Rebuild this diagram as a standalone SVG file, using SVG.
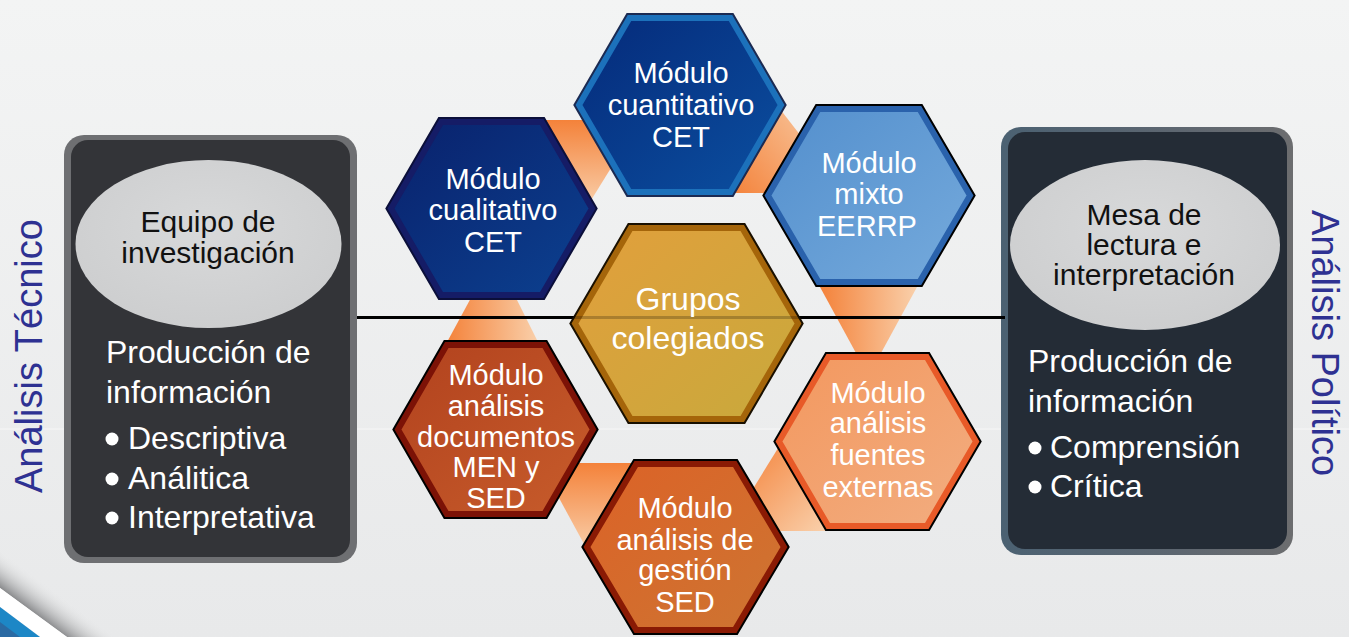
<svg xmlns="http://www.w3.org/2000/svg" width="1349" height="637" viewBox="0 0 1349 637">
<defs>
<style>
.hx-ol{stroke-width:10;stroke-linejoin:miter}
.hx-in{stroke-width:6;stroke-linejoin:miter}
.ht{font-family:"Liberation Sans",Arial,sans-serif;font-size:29px;fill:#ffffff;text-anchor:middle}
.pt{font-family:"Liberation Sans",Arial,sans-serif;font-size:32px;fill:#ffffff}
.et{font-family:"Liberation Sans",Arial,sans-serif;font-size:30px;fill:#111111;text-anchor:middle}
.vt{font-family:"Liberation Sans",Arial,sans-serif;font-size:38px;fill:#2e3192}
</style>
<linearGradient id="bg" x1="0" y1="0" x2="0" y2="1"><stop offset="0" stop-color="#f3f4f4"/><stop offset="1" stop-color="#e8e9ea"/></linearGradient>
<linearGradient id="shade" gradientUnits="userSpaceOnUse" x1="33" y1="612" x2="51" y2="588"><stop offset="0" stop-color="#8c8d8f"/><stop offset="1" stop-color="#e9eaea" stop-opacity="0"/></linearGradient>
<linearGradient id="rborder" x1="0" y1="0" x2="1" y2="0"><stop offset="0" stop-color="#4b6172"/><stop offset="0.6" stop-color="#5d6670"/><stop offset="1" stop-color="#6c6d6f"/></linearGradient>
<radialGradient id="ell" cx="0.5" cy="0.4" r="0.6"><stop offset="0" stop-color="#d8d9da"/><stop offset="1" stop-color="#cdcecf"/></radialGradient>
<linearGradient id="oV" x1="0" y1="0" x2="0" y2="1"><stop offset="0" stop-color="#f4823a"/><stop offset="1" stop-color="#f9d3b0"/></linearGradient>
<linearGradient id="oH" x1="0" y1="0" x2="1" y2="0"><stop offset="0" stop-color="#f4823a"/><stop offset="1" stop-color="#f9d0ab"/></linearGradient>
<linearGradient id="oD" x1="0" y1="0" x2="1" y2="1"><stop offset="0" stop-color="#f4823a"/><stop offset="1" stop-color="#f9d0ab"/></linearGradient>
<linearGradient id="oU" x1="0" y1="1" x2="1" y2="0"><stop offset="0" stop-color="#f4823a"/><stop offset="1" stop-color="#f8c49a"/></linearGradient>
<linearGradient id="gCuant" x1="0" y1="0" x2="1" y2="1"><stop offset="0" stop-color="#052a7a"/><stop offset="1" stop-color="#0b4fa0"/></linearGradient>
<linearGradient id="gCual" x1="0" y1="0" x2="1" y2="1"><stop offset="0" stop-color="#09216c"/><stop offset="1" stop-color="#0c4190"/></linearGradient>
<linearGradient id="gMix" x1="0" y1="0" x2="1" y2="1"><stop offset="0" stop-color="#538fcd"/><stop offset="1" stop-color="#75aadc"/></linearGradient>
<linearGradient id="gGrp" x1="0" y1="0" x2="1" y2="1"><stop offset="0" stop-color="#e29f3c"/><stop offset="1" stop-color="#c8a93c"/></linearGradient>
<linearGradient id="gDoc" x1="0" y1="0" x2="1" y2="1"><stop offset="0" stop-color="#b2421e"/><stop offset="1" stop-color="#c75c2b"/></linearGradient>
<linearGradient id="gFue" x1="0" y1="0" x2="1" y2="1"><stop offset="0" stop-color="#f3985f"/><stop offset="1" stop-color="#f2ad80"/></linearGradient>
<linearGradient id="gGes" x1="0" y1="0" x2="1" y2="1"><stop offset="0" stop-color="#dc6227"/><stop offset="1" stop-color="#cd7532"/></linearGradient>
</defs>

<g id="background">
<rect x="0" y="0" width="1349" height="637" fill="url(#bg)"/>
<line x1="0" y1="429" x2="1349" y2="429" stroke="#ffffff" stroke-opacity="0.6" stroke-width="1"/>
<polygon points="0,550 115,637 67,637 0,588" fill="url(#shade)"/>
<polygon points="0,588 67,637 40,637 0,607" fill="#ffffff"/>
<polygon points="0,607 40,637 0,637" fill="#1d87c6"/>
<polygon points="0,622 20,637 0,637" fill="#2a6aa3"/>
</g>

<g id="label-tecnico">
<text class="vt" transform="translate(42,493) rotate(-90)">Análisis Técnico</text>
</g>
<g id="label-politico">
<text class="vt" transform="translate(1312,210) rotate(90)">Análisis Político</text>
</g>

<g id="panel-left">
<rect x="64" y="135" width="293" height="428" rx="20" fill="#6e6f72"/>
<rect x="71" y="140" width="279" height="417" rx="17" fill="#333438"/>
<ellipse cx="208.5" cy="244" rx="133" ry="84" fill="url(#ell)"/>
<text class="et" x="208" y="232">Equipo de</text>
<text class="et" x="208" y="263">investigación</text>
<text class="pt" x="106" y="363">Producción de</text>
<text class="pt" x="106" y="403">información</text>
<circle cx="112" cy="439" r="6.5" fill="#ffffff"/>
<text class="pt" x="128" y="449">Descriptiva</text>
<circle cx="112" cy="479" r="6.5" fill="#ffffff"/>
<text class="pt" x="128" y="489">Análitica</text>
<circle cx="112" cy="518" r="6.5" fill="#ffffff"/>
<text class="pt" x="128" y="528">Interpretativa</text>
</g>

<g id="panel-right">
<rect x="1001" y="127" width="292" height="428" rx="20" fill="url(#rborder)"/>
<rect x="1008" y="132" width="279" height="417" rx="17" fill="#242c36"/>
<ellipse cx="1145" cy="245" rx="135" ry="85" fill="url(#ell)"/>
<text class="et" x="1144" y="225">Mesa de</text>
<text class="et" x="1144" y="255">lectura e</text>
<text class="et" x="1144" y="285">interpretación</text>
<text class="pt" x="1028" y="372">Producción de</text>
<text class="pt" x="1028" y="412">información</text>
<circle cx="1035" cy="448" r="6.5" fill="#ffffff"/>
<text class="pt" x="1050" y="458">Comprensión</text>
<circle cx="1035" cy="487" r="6.5" fill="#ffffff"/>
<text class="pt" x="1050" y="497">Crítica</text>
</g>

<g id="connectors">
<polygon points="530,120 592,120 619,155 585,210 560,210" fill="url(#oV)"/>
<polygon points="773,100 804,140 790,193 730,193" fill="url(#oU)"/>
<polygon points="820,287 917,287 868.5,376" fill="url(#oH)"/>
<polygon points="472,296 515,296 539,344 446,344" fill="url(#oH)"/>
<polygon points="540,463 655,463 590,555" fill="url(#oV)"/>
<polygon points="780,445 826,531 740,531 746,500" fill="url(#oD)"/>
<line x1="357" y1="317.5" x2="1005" y2="317.5" stroke="#000000" stroke-width="3"/>
</g>

<g id="hex-cuantitativo">
<polygon class="hx-ol" points="579,105 629.5,18 730.5,18 781,105 730.5,192 629.5,192" fill="none" stroke="#1b2a52"/>
<polygon class="hx-in" points="579,105 629.5,18 730.5,18 781,105 730.5,192 629.5,192" fill="url(#gCuant)" stroke="#1c71bb"/>
<text class="ht" x="681" y="83">Módulo</text>
<text class="ht" x="681" y="115">cuantitativo</text>
<text class="ht" x="681" y="147">CET</text>
</g>

<g id="hex-cualitativo">
<polygon class="hx-ol" points="391,208.5 441.25,122 541.75,122 592,208.5 541.75,295 441.25,295" fill="none" stroke="#0b0f3a"/>
<polygon class="hx-in" points="391,208.5 441.25,122 541.75,122 592,208.5 541.75,295 441.25,295" fill="url(#gCual)" stroke="#151c66"/>
<text class="ht" x="493" y="189">Módulo</text>
<text class="ht" x="493" y="220">cualitativo</text>
<text class="ht" x="493" y="252">CET</text>
</g>

<g id="hex-mixto">
<polygon class="hx-ol" points="768,195.5 818.5,109 919.5,109 970,195.5 919.5,282 818.5,282" fill="none" stroke="#000000"/>
<polygon class="hx-in" points="768,195.5 818.5,109 919.5,109 970,195.5 919.5,282 818.5,282" fill="url(#gMix)" stroke="#2a62ac"/>
<text class="ht" x="869" y="173">Módulo</text>
<text class="ht" x="869" y="204">mixto</text>
<text class="ht" x="867" y="236">EERRP</text>
</g>

<g id="hex-grupos">
<polygon class="hx-ol" points="575,323.5 630.75,228 742.25,228 798,323.5 742.25,419 630.75,419" fill="none" stroke="#1a1000"/>
<polygon class="hx-in" points="575,323.5 630.75,228 742.25,228 798,323.5 742.25,419 630.75,419" fill="url(#gGrp)" stroke="#a5650a"/>
<line x1="570" y1="317.5" x2="803" y2="317.5" stroke="#000000" stroke-opacity="0.22" stroke-width="3"/>
<text class="ht" x="688" y="310" style="font-size:32px">Grupos</text>
<text class="ht" x="688" y="349" style="font-size:32px">colegiados</text>
</g>

<g id="hex-documentos">
<polygon class="hx-ol" points="398,429.5 446.75,345 544.25,345 593,429.5 544.25,514 446.75,514" fill="none" stroke="#000000"/>
<polygon class="hx-in" points="398,429.5 446.75,345 544.25,345 593,429.5 544.25,514 446.75,514" fill="url(#gDoc)" stroke="#7c1206"/>
<text class="ht" x="496" y="385">Módulo</text>
<text class="ht" x="496" y="416">análisis</text>
<text class="ht" x="496" y="447">documentos</text>
<text class="ht" x="496" y="477">MEN y</text>
<text class="ht" x="496" y="508">SED</text>
</g>

<g id="hex-fuentes">
<polygon class="hx-ol" points="779,441.5 828.25,357 926.75,357 976,441.5 926.75,526 828.25,526" fill="none" stroke="#000000"/>
<polygon class="hx-in" points="779,441.5 828.25,357 926.75,357 976,441.5 926.75,526 828.25,526" fill="url(#gFue)" stroke="#e85a28"/>
<text class="ht" x="878" y="403">Módulo</text>
<text class="ht" x="878" y="433">análisis</text>
<text class="ht" x="878" y="465">fuentes</text>
<text class="ht" x="878" y="497">externas</text>
</g>

<g id="hex-gestion">
<polygon class="hx-ol" points="587,547 636.25,464 734.75,464 784,547 734.75,630 636.25,630" fill="none" stroke="#000000"/>
<polygon class="hx-in" points="587,547 636.25,464 734.75,464 784,547 734.75,630 636.25,630" fill="url(#gGes)" stroke="#8a1a04"/>
<text class="ht" x="685" y="518">Módulo</text>
<text class="ht" x="685" y="550">análisis de</text>
<text class="ht" x="685" y="580">gestión</text>
<text class="ht" x="685" y="612">SED</text>
</g>
</svg>
